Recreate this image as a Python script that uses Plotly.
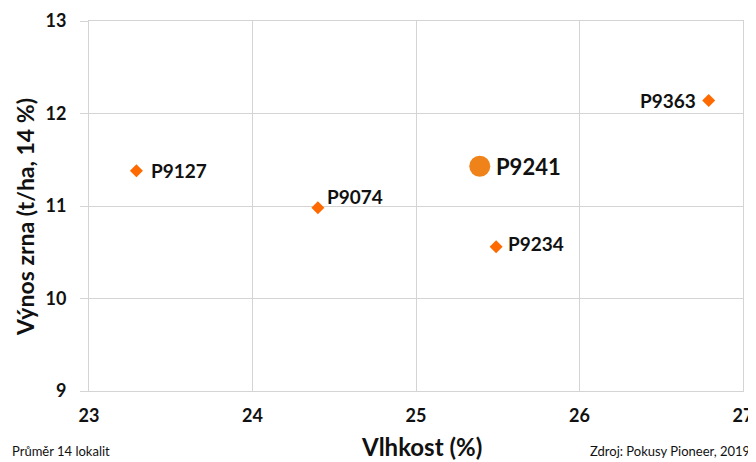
import plotly.graph_objects as go

hybrids = ["P9127", "P9074", "P9234", "P9363"]
moisture = [23.29, 24.40, 25.49, 26.79]
yield_t = [11.38, 10.98, 10.56, 12.14]

main_hybrid = ["P9241"]
main_moisture = [25.39]
main_yield = [11.43]

x_ticks = [23, 24, 25, 26, 27]
y_ticks = [9, 10, 11, 12, 13]

# label placement (styling only)
label_style = {
    "P9127": dict(xanchor="left", xshift=13, yshift=0),
    "P9074": dict(xanchor="left", xshift=7, yshift=11),
    "P9234": dict(xanchor="left", xshift=10, yshift=3),
    "P9363": dict(xanchor="right", xshift=-11, yshift=0),
}

FONT = "Lato, 'Open Sans', sans-serif"
GRID = "#d4d4d4"
INK = "#111111"

fig = go.Figure()
fig.add_trace(go.Scatter(
    x=moisture, y=yield_t, mode="markers",
    marker=dict(symbol="diamond", size=10, color="#FF6A00"),
    cliponaxis=False, showlegend=False, hoverinfo="x+y",
))
fig.add_trace(go.Scatter(
    x=main_moisture, y=main_yield, mode="markers",
    marker=dict(symbol="circle", size=21, color="#F0821A"),
    cliponaxis=False, showlegend=False, hoverinfo="x+y",
))

annotations = []
for h, xv, yv in zip(hybrids, moisture, yield_t):
    s = label_style[h]
    annotations.append(dict(text=f"<b>{h}</b>", x=xv, y=yv, xref="x", yref="y",
                            showarrow=False, yanchor="middle", **s,
                            font=dict(size=19, family=FONT, color=INK)))
for h, xv, yv in zip(main_hybrid, main_moisture, main_yield):
    annotations.append(dict(text=f"<b>{h}</b>", x=xv, y=yv, xref="x", yref="y",
                            showarrow=False, xanchor="left", yanchor="middle", xshift=14,
                            font=dict(size=22, family=FONT, color=INK)))

annotations += [
    dict(text="<b>Vlhkost (%)</b>", xref="paper", yref="paper", x=0.509, y=-0.15,
         xanchor="center", yanchor="middle", showarrow=False,
         font=dict(size=24, family=FONT, color=INK)),
    dict(text="<b>Výnos zrna (t/ha, 14 %)</b>", xref="paper", yref="paper", x=-0.0979, y=0.470,
         xanchor="center", yanchor="middle", showarrow=False, textangle=-90,
         font=dict(size=23, family=FONT, color=INK)),
    dict(text="Průměr 14 lokalit", xref="paper", yref="paper", x=-0.121, y=-0.19,
         xanchor="left", yanchor="bottom", showarrow=False,
         font=dict(size=13, family=FONT, color=INK)),
    dict(text="Zdroj: Pokusy Pioneer, 2019", xref="paper", yref="paper", x=1.0138, y=-0.19,
         xanchor="right", yanchor="bottom", showarrow=False,
         font=dict(size=13, family=FONT, color=INK)),
]

fig.update_layout(
    width=748, height=454,
    margin=dict(l=81, r=13, t=13, b=71),
    paper_bgcolor="white", plot_bgcolor="white",
    font=dict(family=FONT, color=INK),
    xaxis=dict(range=[23, 27], tickvals=x_ticks, showgrid=True, gridcolor=GRID,
               gridwidth=1, zeroline=False, showline=True, linecolor=GRID, mirror=True,
               automargin=False, ticklabelstandoff=8,
               tickfont=dict(size=18, family=FONT, weight="bold")),
    yaxis=dict(range=[9, 13], tickvals=y_ticks, showgrid=True, gridcolor=GRID,
               gridwidth=1, zeroline=False, showline=True, linecolor=GRID, mirror=True,
               automargin=False, ticks="outside", ticklen=8, tickcolor=GRID,
               ticklabelstandoff=10,
               tickfont=dict(size=18, family=FONT, weight="bold")),
    annotations=annotations,
)

fig.write_html("out.html")
